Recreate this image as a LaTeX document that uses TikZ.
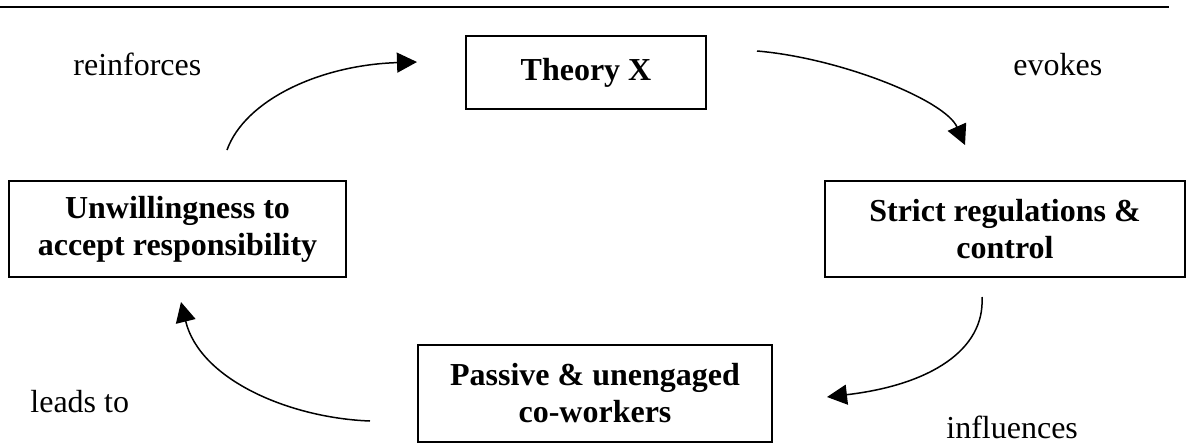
\documentclass[tikz,border=0pt]{standalone}
\usepackage{fontspec}
\setmainfont{Liberation Serif}
\usetikzlibrary{arrows.meta}
\begin{document}
\begin{tikzpicture}[x=0.5pt,y=-0.5pt,
  box/.style={draw, line width=1pt, align=center, inner sep=0pt,
    font=\fontsize{16pt}{18.5pt}\selectfont\bfseries},
  lbl/.style={anchor=base west, inner sep=0pt,
    font=\fontsize{16pt}{18.5pt}\selectfont},
  flow/.style={line width=0.75pt, -{Triangle[length=10pt,width=10pt]}}]
\useasboundingbox (0,0) rectangle (1188,445);

% header rule
\draw[line width=1.3pt] (0,7) -- (1169,7);

% the four stages of the cycle
\node[box, minimum width=120pt, minimum height=36.5pt] (theory) at (586,72.5) {Theory X};
\node[box, minimum width=180pt, minimum height=48pt] (strict) at (1005,229) {Strict regulations \&\\control};
\node[box, minimum width=177pt, minimum height=48.5pt] (passive) at (595,393.5) {Passive \& unengaged\\co-workers};
\node[box, minimum width=168.5pt, minimum height=48pt] (unwill) at (177.5,229) {Unwillingness to\\accept responsibility};

% free ends of the curved connectors
\coordinate (rA) at (227,150);  \coordinate (rB) at (417,62);
\coordinate (eA) at (757,51);   \coordinate (eB) at (965,145);
\coordinate (iA) at (982,297);  \coordinate (iB) at (827,397);
\coordinate (lA) at (370,421);  \coordinate (lB) at (181,302);

\draw[flow] (rA) .. controls (245,100) and (320,65) .. (rB);
\draw[flow] (eA) .. controls (840,58) and (945,100) .. (eB);
\draw[flow] (iA) .. controls (985,350) and (930,385) .. (iB);
\draw[flow] (lA) .. controls (290,418) and (200,380) .. (lB);

% connector labels
\node[lbl] (lreinf) at (73,75) {reinforces};
\node[lbl] (levokes) at (1013,75) {evokes};
\node[lbl] (linfl) at (946,438) {influences};
\node[lbl] (lleads) at (30,412) {leads to};
\end{tikzpicture}
\end{document}
